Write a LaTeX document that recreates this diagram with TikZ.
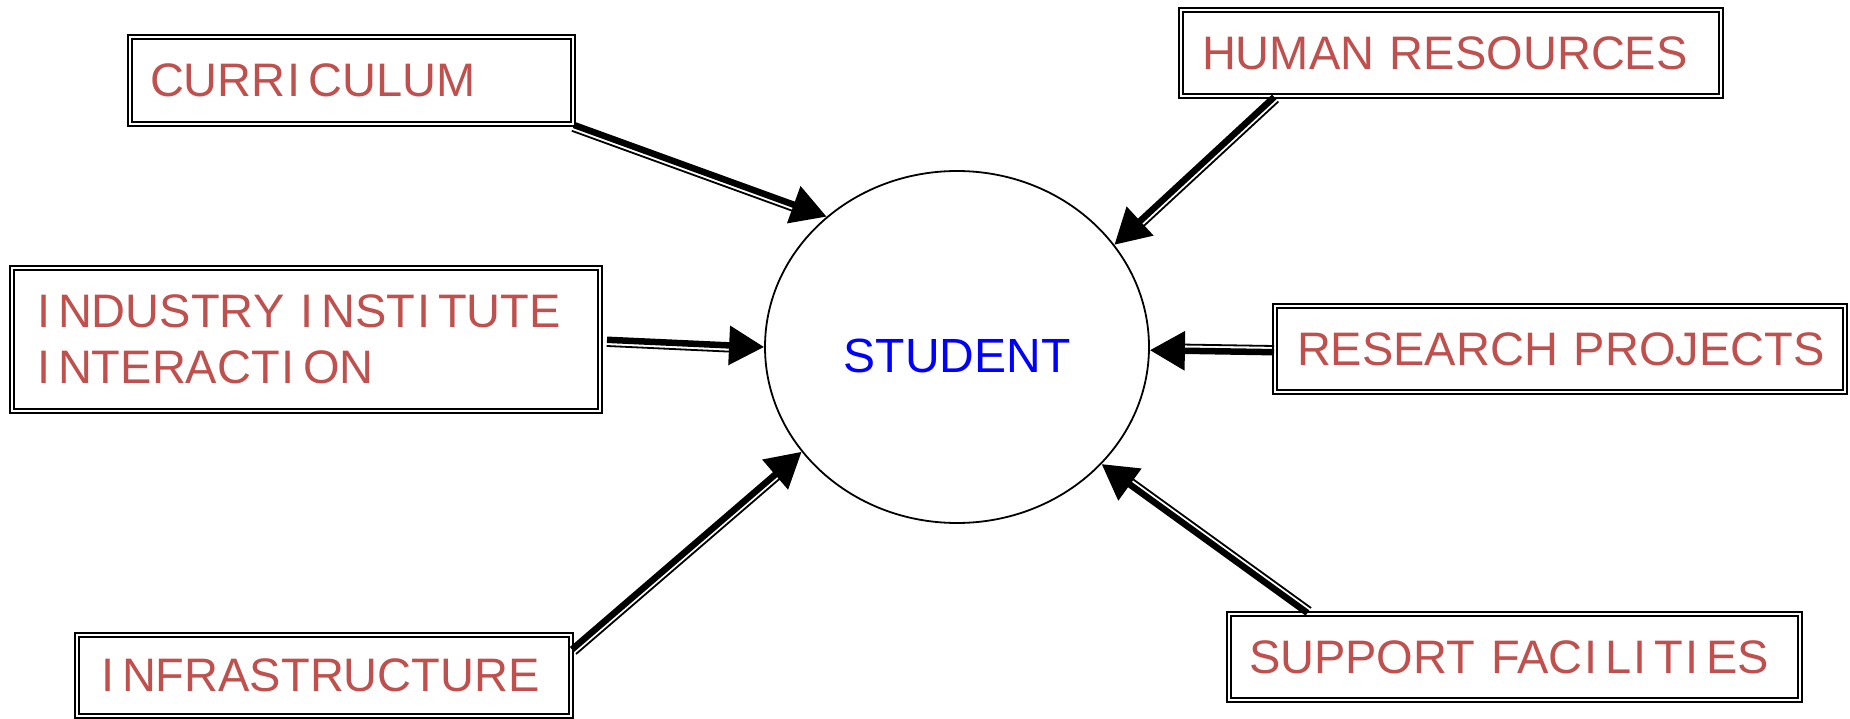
\documentclass[tikz,border=0pt]{standalone}
\usepackage{fontspec}
\setmainfont{Liberation Sans}
\usetikzlibrary{arrows.meta,shapes.geometric,calc}
\definecolor{boxred}{HTML}{C0504D}
\definecolor{stublue}{HTML}{0000FF}
\newcommand{\wideI}{\kern2pt I\kern8pt\relax}
\newcommand{\firstI}{I\kern8pt\relax}
\tikzset{
  dbox/.style={draw=black, double=white, double distance=2pt, line width=2pt,
    inner ysep=0pt, align=left, text=boxred, font=\fontsize{47}{56}\selectfont},
  stuell/.style={draw=black, ellipse, line width=1.8pt, inner sep=0pt,
    text=stublue, font=\fontsize{48}{56}\selectfont},
  thickarr/.style={line width=6.5pt, -{Triangle[length=35pt,width=38pt]}},
  thinarr/.style={line width=1.8pt, shorten >=33pt},
}
\begin{document}
\begin{tikzpicture}[x=1pt,y=-1pt]
\useasboundingbox (0,0) rectangle (1850,719);

\node[stuell, minimum width=384pt, minimum height=352pt, text height=50pt, text depth=0pt] (student) at (957,347) {STUDENT};

\node[dbox, minimum height=87pt, inner xsep=20pt, text width=403pt] (curr) at (351.5,80.5) {\mbox{CURR\wideI CULUM}};
\node[dbox, minimum height=86pt, inner xsep=21.5pt, text width=497.5pt] (hr) at (1450.75,53) {\mbox{HUMAN RESOURCES}};
\node[dbox, minimum height=143pt, inner xsep=25pt, text width=538pt] (ind) at (306,339.5) {\mbox{\firstI NDUSTRY \firstI NST\wideI TUTE}\\\mbox{\firstI NTERACT\wideI ON}};
\node[dbox, minimum height=86pt, inner xsep=22pt, text width=526pt] (rp) at (1560,349) {\mbox{RESEARCH PROJECTS}};
\node[dbox, minimum height=81pt, inner xsep=24pt, text width=446pt] (infra) at (324,675.5) {\mbox{\firstI NFRASTRUCTURE}};
\node[dbox, minimum height=86pt, inner xsep=20pt, text width=531pt] (sf) at (1514.5,657) {\mbox{SUPPORT FAC\wideI L\wideI T\wideI ES}};

% curriculum
\draw[thinarr] ([shift={(-2.2,5.8)}]curr.south east) -- ([shift={(-2.2,5.8)}]student.135);
\draw[thickarr] (curr.south east) -- (student.135);
% human resources
\draw[thinarr] ([shift={(4.2,4.5)}]hr.194) -- ([shift={(4.2,4.5)}]student.33);
\draw[thickarr] (hr.194) -- (student.33);
% industry
\draw[thinarr, shorten <=6pt] ([shift={(-0.4,6.2)}]ind.east) -- ([shift={(-0.4,6.2)}]student.west);
\draw[thickarr, shorten <=6pt] (ind.east) -- (student.west);
% research
\draw[thinarr] ([shift={(0,-3)}]rp.west) -- ([shift={(0,-3)}]student.east);
\draw[thickarr] ([shift={(0,3.2)}]rp.west) -- ([shift={(0,3.2)}]student.east);
% infrastructure
\draw[thinarr] ([shift={(4,4.6)}]infra.6) -- ([shift={(4,4.6)}]student.214);
\draw[thickarr] (infra.6) -- (student.214);
% support facilities
\draw[thinarr] ([shift={(3.6,-5)}]sf.168.5) -- ([shift={(3.6,-5)}]student.321);
\draw[thickarr] (sf.168.5) -- (student.321);
\end{tikzpicture}
\end{document}
